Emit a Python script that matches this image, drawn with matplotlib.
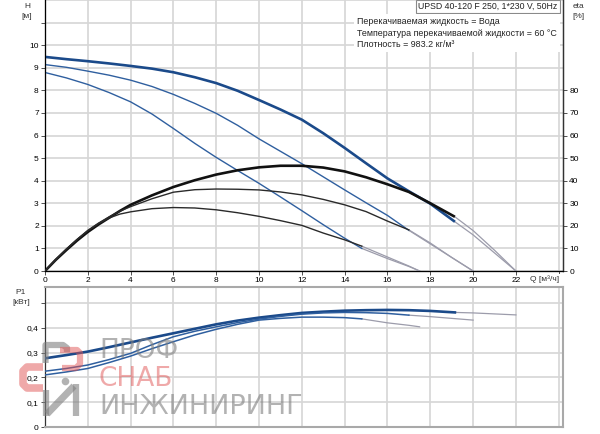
import matplotlib
matplotlib.use("Agg")
import matplotlib.pyplot as plt

plt.rcParams['font.family'] = ['Liberation Sans', 'DejaVu Sans']

# ---------------- data ----------------
# Head curves H [m] (solid part, then thin continuation)
h3_q = [0, 1, 2, 3, 4, 5, 6, 7, 8, 9, 10, 11, 12, 13, 14, 15, 16, 17, 18, 19.15]
h3_h = [9.48, 9.38, 9.29, 9.19, 9.08, 8.96, 8.8, 8.58, 8.32, 7.98, 7.57, 7.15, 6.7, 6.1, 5.45, 4.77, 4.1, 3.53, 2.98, 2.18]
h3_tail_q = [19.15, 20, 21, 22]
h3_tail_h = [2.18, 1.6, 0.8, 0.0]

h2_q = [0, 1, 2, 3, 4, 5, 6, 7, 8, 9, 10, 11, 12, 13, 14, 15, 16, 17]
h2_h = [9.14, 9.02, 8.85, 8.67, 8.45, 8.17, 7.82, 7.42, 6.98, 6.45, 5.85, 5.3, 4.75, 4.17, 3.59, 3.02, 2.46, 1.8]
h2_tail_q = [17, 18, 19, 20]
h2_tail_h = [1.8, 1.2, 0.6, 0.0]

h1_q = [0, 1, 2, 3, 4, 5, 6, 7, 8, 9, 10, 11, 12, 13, 14, 14.8]
h1_h = [8.79, 8.55, 8.26, 7.9, 7.49, 6.95, 6.31, 5.65, 5.03, 4.45, 3.88, 3.28, 2.67, 2.05, 1.45, 1.0]
h1_tail_q = [14.8, 16, 17, 17.5]
h1_tail_h = [1.0, 0.55, 0.2, 0.0]

# Efficiency curves eta [%]
e3_q = [0, 0.5, 1, 1.5, 2, 2.5, 3, 3.5, 4, 5, 6, 7, 8, 9, 10, 11, 12, 13, 14, 15, 16, 17, 18, 19.15]
e3_v = [0, 4.9, 9.3, 13.5, 17.3, 20.6, 23.6, 26.6, 29.3, 33.5, 37.2, 40.2, 42.7, 44.6, 45.9, 46.6, 46.6, 45.8, 44.1, 41.5, 38.4, 35.0, 30.0, 24.0]
e3_tail_q = [19.15, 20, 21, 22]
e3_tail_v = [24.0, 17.9, 9.2, 0.0]

e2_q = [0, 0.5, 1, 1.5, 2, 2.5, 3, 3.5, 4, 5, 6, 7, 8, 9, 10, 11, 12, 13, 14, 15, 16, 17]
e2_v = [0, 5.0, 9.6, 14.0, 18.0, 21.2, 24.0, 26.5, 28.5, 32.0, 34.9, 36.0, 36.3, 36.2, 35.9, 35.0, 33.7, 31.7, 29.3, 26.3, 22.1, 18.2]
e2_tail_q = [17, 18, 19, 20]
e2_tail_v = [18.2, 12.4, 6.0, 0.0]

e1_q = [0, 0.5, 1, 1.5, 2, 2.5, 3, 3.5, 4, 5, 6, 7, 8, 9, 10, 11, 12, 13, 14, 14.8]
e1_v = [0, 5.1, 9.8, 14.0, 17.8, 21.0, 23.5, 25.2, 26.2, 27.6, 28.1, 27.9, 27.1, 25.8, 24.2, 22.3, 20.2, 16.8, 13.8, 11.0]
e1_tail_q = [14.8, 16, 17, 17.5]
e1_tail_v = [11.0, 6.2, 2.2, 0.0]

# Power curves P1 [kW]
p3_q = [0, 1, 2, 3, 4, 5, 6, 7, 8, 9, 10, 11, 12, 13, 14, 15, 16, 17, 18, 19.15]
p3_v = [0.277, 0.29, 0.304, 0.322, 0.341, 0.36, 0.378, 0.396, 0.414, 0.429, 0.441, 0.451, 0.46, 0.465, 0.469, 0.471, 0.472, 0.471, 0.468, 0.462]
p3_tail_q = [19.15, 20, 21, 22]
p3_tail_v = [0.462, 0.46, 0.456, 0.452]

p2_q = [0, 1, 2, 3, 4, 5, 6, 7, 8, 9, 10, 11, 12, 13, 14, 15, 16, 17]
p2_v = [0.225, 0.236, 0.25, 0.272, 0.297, 0.332, 0.364, 0.386, 0.404, 0.421, 0.435, 0.446, 0.455, 0.46, 0.462, 0.461, 0.458, 0.451]
p2_tail_q = [17, 18, 19, 20]
p2_tail_v = [0.451, 0.445, 0.438, 0.431]

p1_q = [0, 1, 2, 3, 4, 5, 6, 7, 8, 9, 10, 11, 12, 13, 14, 14.8]
p1_v = [0.21, 0.222, 0.236, 0.26, 0.286, 0.316, 0.344, 0.371, 0.394, 0.414, 0.431, 0.438, 0.443, 0.443, 0.441, 0.436]
p1_tail_q = [14.8, 16, 17, 17.5]
p1_tail_v = [0.436, 0.42, 0.41, 0.404]

q_ticks = [0, 2, 4, 6, 8, 10, 12, 14, 16, 18, 20, 22]
h_ticks = [0, 1, 2, 3, 4, 5, 6, 7, 8, 9, 10]
eta_ticks = [0, 10, 20, 30, 40, 50, 60, 70, 80]
p_ticks = [0, 0.1, 0.2, 0.3, 0.4]
p_tick_labels = ['0', '0,1', '0,2', '0,3', '0,4']

title_text = "UPSD 40-120 F 250, 1*230 V, 50Hz"
info_lines = ["Перекачиваемая жидкость = Вода",
              "Температура перекачиваемой жидкости = 60 °C",
              "Плотность = 983.2 кг/м³"]
wm_words = ["ПРОФ", "СНАБ", "ИНЖИНИРИНГ"]

# ---------------- styling ----------------
W, Hpx = 600, 434
fig = plt.figure(figsize=(W / 100, Hpx / 100), dpi=100)
GRID = '#d6d6d6'
DARK = '#333333'
BLUE_THICK = '#1b4a8a'
BLUE_THIN = '#2f5f9f'
TAIL = '#9c9cab'
FS = 6


def fx(px):
    return px / W


def fy(py):
    return 1 - py / Hpx


# ---- top axes ----
ax = fig.add_axes([fx(45), fy(271), fx(563) - fx(45), fy(0) - fy(271)])
ax.set_xlim(0, 24.2)
ax.set_ylim(0, 12)
for v in range(0, 25, 2):
    ax.axvline(v, color=GRID, lw=1.2, zorder=0)
for v in range(0, 13):
    ax.axhline(v, color=GRID, lw=1.2, zorder=0)
ax.set_xticks(q_ticks + [24])
ax.set_xticklabels([str(t) for t in q_ticks] + [''])
ax.set_yticks(h_ticks + [11])
ax.set_yticklabels([str(t) for t in h_ticks] + [''])
ax.tick_params(direction='out', length=3, width=0.6, color=DARK, labelsize=FS, pad=1.5)
ax.spines['top'].set_visible(False)
for s in ['left', 'bottom', 'right']:
    ax.spines[s].set_color(DARK)
    ax.spines[s].set_linewidth(0.9)

ax2 = ax.twinx()
ax2.set_ylim(0, 120)
ax2.set_yticks(eta_ticks)
ax2.set_yticklabels([str(t) for t in eta_ticks])
ax2.tick_params(direction='out', length=3, width=0.6, color=DARK, labelsize=FS, pad=1.5)
ax2.spines['top'].set_visible(False)
ax2.spines['right'].set_color(DARK)
ax2.spines['right'].set_linewidth(0.9)

for qq, vv in [(h3_tail_q, h3_tail_h), (h2_tail_q, h2_tail_h), (h1_tail_q, h1_tail_h)]:
    ax.plot(qq, vv, color=TAIL, lw=0.9, zorder=2)
for qq, vv in [(e3_tail_q, e3_tail_v), (e2_tail_q, e2_tail_v), (e1_tail_q, e1_tail_v)]:
    ax2.plot(qq, vv, color=TAIL, lw=0.9, zorder=2)

ax.plot(h3_q, h3_h, color=BLUE_THICK, lw=1.9, zorder=3, solid_capstyle='butt')
ax.plot(h2_q, h2_h, color=BLUE_THIN, lw=1.0, zorder=3)
ax.plot(h1_q, h1_h, color=BLUE_THIN, lw=1.0, zorder=3)
ax2.plot(e3_q, e3_v, color='#111111', lw=1.9, zorder=3, solid_capstyle='butt')
ax2.plot(e2_q, e2_v, color='#2a2a2a', lw=1.0, zorder=3)
ax2.plot(e1_q, e1_v, color='#2a2a2a', lw=1.0, zorder=3)

# ---- bottom axes ----
bx = fig.add_axes([fx(45), fy(427), fx(563) - fx(45), fy(287) - fy(427)])
bx.set_xlim(0, 24.2)
bx.set_ylim(0, 0.5645)
for v in range(0, 25, 2):
    bx.axvline(v, color=GRID, lw=1.2, zorder=0)
for v in [0.1, 0.2, 0.3, 0.4, 0.5]:
    bx.axhline(v, color=GRID, lw=1.2, zorder=0)
bx.set_xticks(q_ticks + [24])
bx.set_xticklabels([])
bx.tick_params(axis='x', length=0)
bx.set_yticks(p_ticks + [0.5])
bx.set_yticklabels(p_tick_labels + [''])
bx.tick_params(axis='y', direction='out', length=3, width=0.6, color=DARK, labelsize=FS, pad=1.5)
for s in ['top', 'right', 'bottom']:
    bx.spines[s].set_color('#a9a9a9')
    bx.spines[s].set_linewidth(1.5)
bx.spines['left'].set_color(DARK)
bx.spines['left'].set_linewidth(0.9)

for qq, vv in [(p3_tail_q, p3_tail_v), (p2_tail_q, p2_tail_v), (p1_tail_q, p1_tail_v)]:
    bx.plot(qq, vv, color=TAIL, lw=0.9, zorder=2)
bx.plot(p3_q, p3_v, color=BLUE_THICK, lw=1.9, zorder=3)
bx.plot(p2_q, p2_v, color=BLUE_THIN, lw=1.1, zorder=3)
bx.plot(p1_q, p1_v, color=BLUE_THIN, lw=1.1, zorder=3)

# ---- labels ----
fig.text(fx(27), fy(6), "H", fontsize=FS, ha='center', va='center', color=DARK)
fig.text(fx(27), fy(16), "[м]", fontsize=FS, ha='center', va='center', color=DARK)
fig.text(fx(578), fy(6), "eta", fontsize=FS, ha='center', va='center', color=DARK)
fig.text(fx(578), fy(16), "[%]", fontsize=FS, ha='center', va='center', color=DARK)
fig.text(fx(21), fy(293), "P1", fontsize=FS, ha='center', va='center', color=DARK)
fig.text(fx(21), fy(303), "[кВт]", fontsize=FS, ha='center', va='center', color=DARK)
fig.text(fx(530), fy(279), "Q [м³/ч]", fontsize=FS, ha='left', va='center', color=DARK,
         bbox=dict(facecolor='white', edgecolor='none', pad=0.5))

fig.text(fx(488), fy(6.5), title_text, fontsize=6.3, ha='center', va='center', color='#222222',
         bbox=dict(facecolor='white', edgecolor='#8a8a8a', lw=0.8, boxstyle='square,pad=0.25'))
fig.text(fx(357), fy(33), "\n".join(info_lines), fontsize=6.4, ha='left', va='center',
         color='#222222', linespacing=1.4,
         bbox=dict(facecolor='white', edgecolor='none', pad=2))

# ---- watermark (logo shapes + words) ----
ov = fig.add_axes([0, 0, 1, 1], facecolor='none')
ov.set_xlim(0, W)
ov.set_ylim(Hpx, 0)
ov.axis('off')
wm_gray = '#7f7f7f'
wm_red = '#e05555'
ga, ra = 0.6, 0.5
ov.plot([45.5, 45.5, 63, 67, 67], [363, 345, 345, 348, 352], color=wm_gray, alpha=ga, lw=4.5,
        solid_joinstyle='round', solid_capstyle='butt')
ov.plot([60, 77, 80, 80, 76, 62], [350, 350, 353, 364, 368, 368], color=wm_red, alpha=ra, lw=4.5,
        solid_joinstyle='round', solid_capstyle='butt')
ov.plot([43, 27, 23, 23, 27, 43], [367, 367, 371, 384, 388, 388], color=wm_red, alpha=ra, lw=5.5,
        solid_joinstyle='round', solid_capstyle='butt')
ov.plot([46, 46], [390, 416], color=wm_gray, alpha=ga, lw=4.5, solid_capstyle='butt')
ov.plot([47, 74], [414, 386], color=wm_gray, alpha=ga, lw=5, solid_capstyle='butt')
ov.plot([76, 76], [384, 416], color=wm_gray, alpha=ga, lw=4.5, solid_capstyle='butt')
ov.scatter([65], [381], s=30, color=wm_gray, alpha=ga, lw=0)

wm_font = ['DejaVu Sans']
ov.text(99, 351, wm_words[0], fontsize=19, color=wm_gray, alpha=ga, ha='left', va='center',
        family=wm_font)
ov.text(99, 379, wm_words[1], fontsize=19, color=wm_red, alpha=ra, ha='left', va='center',
        family=wm_font)
ov.text(99, 407, wm_words[2], fontsize=19.5, color=wm_gray, alpha=ga, ha='left', va='center',
        family=wm_font)

fig.savefig("out.png", dpi=100)
